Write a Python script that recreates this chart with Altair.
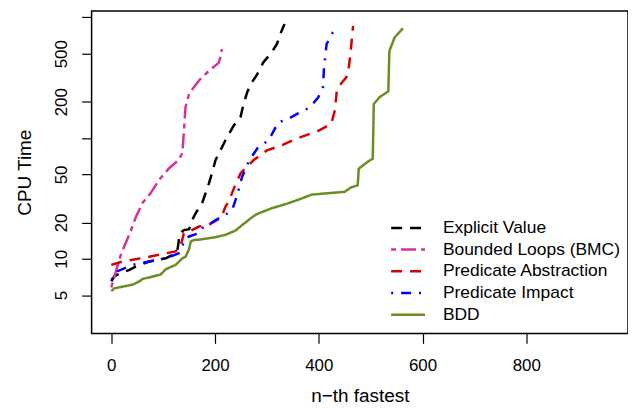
import altair as alt
import pandas as pd

series_names = ["Explicit Value", "Bounded Loops (BMC)", "Predicate Abstraction",
                "Predicate Impact", "BDD"]

explicit_n = [0, 6, 15, 35, 47, 73, 105, 118, 124, 128, 132, 140, 150, 156, 163, 175, 188,
              194, 201, 207, 220, 236, 249, 255, 262, 271, 280, 293, 309, 319, 328, 334]
explicit_t = [6.5, 7.2, 7.5, 8.1, 8.6, 9.5, 10.1, 10.8, 11.1, 12.2, 16.3, 17.3, 17.6, 21, 24,
              28.8, 42, 51, 66, 74, 96, 127, 149, 192, 240, 290, 330, 424, 512, 600, 768, 880]

bmc_n = [0, 9, 19, 35, 47, 60, 76, 92, 111, 130, 137, 140, 143, 150, 169, 188, 207, 211, 213]
bmc_t = [5.8, 7.9, 11, 16, 22, 29, 35, 45, 56, 66, 75, 115, 180, 233, 300, 360, 420, 480, 545]

pabs_n = [0, 22, 41, 73, 105, 124, 133, 140, 150, 169, 188, 204, 212, 220, 228, 238, 249, 260,
          274, 300, 328, 357, 399, 424, 431, 435, 445, 453, 457, 461, 466]
pabs_t = [8.9, 9.5, 9.8, 10.4, 11.1, 11.5, 12.5, 16.3, 16.8, 18.5, 19.1, 21, 22, 27, 31, 40, 51,
          57, 65.5, 79, 87, 99, 115, 131, 170, 255, 290, 318, 360, 500, 850]

pimp_n = [0, 12, 41, 73, 105, 130, 137, 140, 150, 169, 175, 207, 222, 233, 242, 252, 266, 283,
          303, 322, 341, 360, 383, 399, 408, 410, 415, 427, 436]
pimp_t = [6.7, 7.9, 8.9, 9.5, 10.1, 11.1, 12.5, 14.3, 15.3, 16.3, 17.9, 21.6, 23.5, 25.4, 33,
          47.7, 65.5, 84, 95.6, 135, 144, 160, 180, 218, 264, 383, 600, 750, 820]

bdd_n = [0, 6, 41, 54, 60, 95, 105, 124, 137, 143, 150, 153, 159, 169, 201, 220, 239, 252, 271,
         280, 309, 341, 367, 386, 450, 462, 475, 477, 494, 504, 506, 517, 534, 536, 546, 562]
bdd_t = [5.4, 5.7, 6.1, 6.5, 6.8, 7.4, 8.2, 8.9, 10.1, 10.4, 12, 13.9, 14.3, 14.4, 15.1, 15.8,
         17.1, 19, 22, 23.4, 26.2, 28.8, 31.6, 34, 35.9, 39, 40.7, 55.8, 63.5, 67.6, 192, 218,
         244, 526, 680, 812]

x_ticks = [0, 200, 400, 600, 800]
y_ticks = [5, 10, 20, 50, 100, 200, 500, 1000]
y_labeled = [5, 10, 20, 50, 200, 500]

colors = ["#000000", "#D4329C", "#D60000", "#0000FF", "#6B8E23"]
dashes = [[11, 8], [5, 5, 15, 5], [11, 8], [2, 8, 10, 8], [1, 0]]

rows = []
for name, ns, ts in zip(series_names,
                        [explicit_n, bmc_n, pabs_n, pimp_n, bdd_n],
                        [explicit_t, bmc_t, pabs_t, pimp_t, bdd_t]):
    for n, t in zip(ns, ts):
        rows.append({"series": name, "n": n, "t": t})
df = pd.DataFrame(rows)

FONT = "Liberation Sans"

legend = alt.Legend(
    orient="none", legendX=308, legendY=208, title=None,
    symbolType="M-2,0H2", symbolSize=289, symbolStrokeWidth=2.5,
    labelFontSize=17.5, labelFont=FONT, labelColor="black", labelLimit=400,
    labelOffset=25, rowPadding=2.8, padding=0,
)

label_expr = "indexof(" + str(y_labeled) + ", datum.value) >= 0 ? format(datum.value, 'd') : ''"

chart = alt.Chart(df).mark_line(strokeWidth=2.5, strokeCap="butt").encode(
    x=alt.X("n:Q",
            scale=alt.Scale(domain=[-38, 996], nice=False, zero=False),
            axis=alt.Axis(values=x_ticks, title="n−th fastest", grid=False, domain=False,
                          tickSize=10, tickColor="black", tickWidth=1.2,
                          labelFontSize=17, labelFont=FONT, labelColor="black",
                          labelPadding=14, format="d",
                          titleFontSize=19, titleFont=FONT, titleFontWeight="normal",
                          titleColor="black", titleY=62, titleBaseline="middle")),
    y=alt.Y("t:Q",
            scale=alt.Scale(type="log", domain=[2.41, 1130], nice=False),
            axis=alt.Axis(values=y_ticks, labelExpr=label_expr, grid=False, domain=False,
                          tickSize=10, tickColor="black", tickWidth=1.2,
                          labelAngle=270, labelAlign="center", labelBaseline="bottom",
                          labelFontSize=17, labelFont=FONT, labelColor="black",
                          labelPadding=11,
                          title="CPU Time", titleFontSize=19, titleFont=FONT,
                          titleFontWeight="normal", titleColor="black",
                          titleX=-67, titleY=162, titleBaseline="middle", titleAngle=270)),
    color=alt.Color("series:N", scale=alt.Scale(domain=series_names, range=colors),
                    legend=legend),
    strokeDash=alt.StrokeDash("series:N", scale=alt.Scale(domain=series_names, range=dashes),
                              legend=legend),
    order=alt.Order("n:Q"),
).properties(
    width=539, height=324,
    autosize=alt.AutoSizeParams(type="none"),
    padding={"left": 84, "top": 2, "right": 0, "bottom": 74},
).configure_view(stroke="black", strokeWidth=1.5)

chart.save("out.html", embed_options={"renderer": "svg", "actions": False})
